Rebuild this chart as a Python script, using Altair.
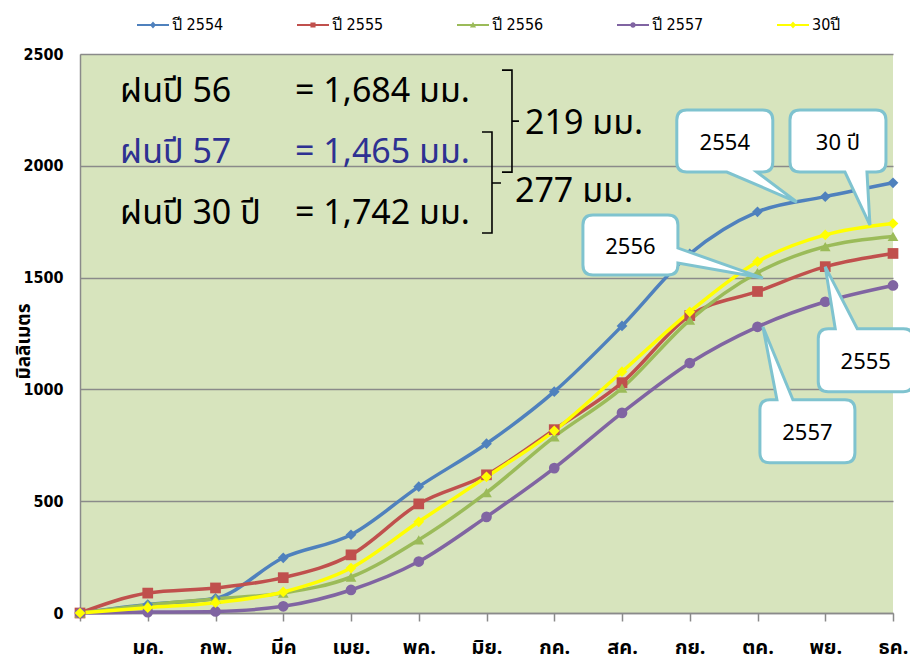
import altair as alt
import pandas as pd

# ---------------- data ----------------
months = ["", "มค.", "กพ.", "มีค", "เมย.", "พค.", "มิย.", "กค.", "สค.", "กย.", "ตค.", "พย.", "ธค."]
series_names = ["ปี 2554", "ปี 2555", "ปี 2556", "ปี 2557", "30ปี"]

rain_2554 = [0, 38, 66, 247, 350, 565, 757, 990, 1284, 1606, 1794, 1862, 1924]
rain_2555 = [0, 89, 112, 158, 260, 488, 618, 820, 1030, 1330, 1438, 1549, 1608]
rain_2556 = [0, 36, 63, 89, 161, 327, 538, 788, 1006, 1310, 1522, 1639, 1684]
rain_2557 = [0, 4, 7, 30, 103, 230, 430, 648, 895, 1118, 1280, 1392, 1465]
rain_30y = [0, 24, 46, 94, 201, 408, 609, 815, 1079, 1347, 1571, 1691, 1742]

series_values = [rain_2554, rain_2555, rain_2556, rain_2557, rain_30y]
colors = ["#4F81BD", "#C0504D", "#9BBB59", "#8064A2", "#FFFF00"]
marker_shapes = ["diamond", "square", "triangle-up", "circle", "diamond"]

# legend symbols: a line with the marker on it
bar = "M-1,-0.06L1,-0.06L1,0.06L-1,0.06Z"
legend_paths = [
    bar + "M0,-0.22L0.19,0L0,0.22L-0.19,0Z",
    bar + "M-0.16,-0.16L0.16,-0.16L0.16,0.16L-0.16,0.16Z",
    bar + "M0,-0.2L0.19,0.15L-0.19,0.15Z",
    bar + "M0.17,0A0.17,0.17 0 1,1 -0.17,0A0.17,0.17 0 1,1 0.17,0Z",
    bar + "M0,-0.22L0.19,0L0,0.22L-0.19,0Z",
]

rows = []
for name, vals, shp, col in zip(series_names, series_values, marker_shapes, colors):
    for i, v in enumerate(vals):
        rows.append({"idx": i, "value": v, "series": name, "shape": shp, "col": col})
df = pd.DataFrame(rows)

# annotation text block
note_left = ["ฝนปี 56", "ฝนปี 57", "ฝนปี 30 ปี"]
note_right = ["= 1,684 มม.", "= 1,465 มม.", "= 1,742 มม."]
note_colors = ["#000000", "#2E3192", "#000000"]
note_y = [2285, 2012, 1740]
note_left_x = 0.59
note_right_x = 5.756
diff_text = ["219 มม.", "277 มม."]
diff_x = [6.57, 6.42]
diff_y = [2142, 1838]

# callouts: tip (x index, value), box relative to tip (px), edge of tail, tail base
callout_labels = ["2554", "30 ปี", "2556", "2555", "2557"]
callout_tip_x = [10.58, 11.66, 10.08, 11.0, 10.08]
callout_tip_y = [1838, 1735, 1498, 1549, 1280]
callout_box = [(-120, -92, -24, -30), (-80, -115, 16, -53), (-180, -63, -85, -3),
               (-7, 62, 88, 125), (-3, 73, 92, 136)]
callout_edge = ["bottom", "bottom", "right", "top", "top"]
callout_base = [(-70, -40), (-25, -3), (-30, -15), (10, 32), (14, 30)]

FONT_THAI = "Tahoma, 'Noto Sans Thai', 'Noto Sans', sans-serif"
FONT_NARROW = "'Liberation Sans Narrow', 'Arial Narrow', 'DejaVu Sans Condensed', sans-serif"

X = alt.X("idx:Q", scale=alt.Scale(domain=[0, 12], nice=False, zero=False),
          axis=alt.Axis(values=list(range(13)),
                        labelExpr="[" + ",".join("'" + m + "'" for m in months) + "][datum.value]",
                        grid=False, title=None, tickColor="#8A8A8A", tickSize=8, tickWidth=1.5,
                        domainColor="#8A8A8A", domainWidth=1.5, labelFont=FONT_THAI,
                        labelFontSize=20, labelFontWeight="bold", labelColor="#000000",
                        labelPadding=16, labelOverlap=False, labelFlush=False))
Y = alt.Y("value:Q", scale=alt.Scale(domain=[0, 2500], nice=False),
          axis=alt.Axis(values=[0, 500, 1000, 1500, 2000, 2500], format="d", grid=True,
                        gridColor="#8A8A8A", gridWidth=1.5, ticks=False, domainColor="#8A8A8A",
                        domainWidth=1.5, labelFont=FONT_NARROW, labelFontSize=16,
                        labelFontWeight="bold", labelColor="#000000", labelPadding=17,
                        title="มิลลิเมตร", titleFont=FONT_THAI, titleFontSize=19,
                        titleFontWeight="bold", titleColor="#000000", titleAngle=270,
                        titleAlign="center", titleBaseline="middle", titleX=-57, titleY=287))

base = alt.Chart(df)
lines = base.mark_line(strokeWidth=3.5, interpolate="monotone").encode(
    x=X, y=Y, detail="series:N", color=alt.Color("col:N", scale=None))
points = base.mark_point(filled=True, size=115, opacity=1).encode(
    x="idx:Q", y="value:Q",
    color=alt.Color("col:N", scale=None),
    shape=alt.Shape("shape:N", scale=None))

legend_cfg = dict(orient="none", legendX=57, legendY=-45, direction="horizontal", title=None,
                  symbolSize=1024, symbolStrokeWidth=0, symbolOpacity=1, labelFont=FONT_NARROW,
                  labelFontSize=16, labelColor="#000000", labelOffset=3, columnPadding=73,
                  padding=0)
legend_layer = base.mark_point(filled=True, opacity=0).encode(
    x="idx:Q", y="value:Q",
    color=alt.Color("series:N", scale=alt.Scale(domain=series_names, range=colors),
                    legend=alt.Legend(**legend_cfg)),
    shape=alt.Shape("series:N", scale=alt.Scale(domain=series_names, range=legend_paths),
                    legend=alt.Legend(**legend_cfg)))

# text block
notes_df = pd.DataFrame({"lx": [note_left_x] * 3, "rx": [note_right_x] * 3, "y": note_y,
                         "lt": note_left, "rt": note_right, "c": note_colors})
notes_left = alt.Chart(notes_df).mark_text(align="left", baseline="alphabetic", fontSize=34,
                                           font=FONT_THAI).encode(
    x="lx:Q", y="y:Q", text="lt:N", color=alt.Color("c:N", scale=None))
notes_right = alt.Chart(notes_df).mark_text(align="right", baseline="alphabetic", fontSize=34,
                                            font=FONT_THAI).encode(
    x="rx:Q", y="y:Q", text="rt:N", color=alt.Color("c:N", scale=None))
diff_df = pd.DataFrame({"x": diff_x, "y": diff_y, "t": diff_text})
diffs = alt.Chart(diff_df).mark_text(align="left", baseline="alphabetic", fontSize=34,
                                     font=FONT_THAI, color="#000000").encode(
    x="x:Q", y="y:Q", text="t:N")

# brackets
bracket_df = pd.DataFrame({"x": [6.376, 6.081], "y": [2200, 1923],
                           "p": ["M-10,-51L0,-51L0,51L-10,51M0,0L7,0",
                                 "M-10,-51L0,-51L0,50L-10,50M0,0L9,0"]})
brackets = alt.Chart(bracket_df).mark_point(filled=False, size=4, stroke="#000000",
                                            strokeWidth=1.6, opacity=1).encode(
    x="x:Q", y="y:Q", shape=alt.Shape("p:N", scale=None))


def callout_path(box, edge, b, r=10):
    x0, y0, x1, y1 = box
    b0, b1 = b
    p = [f"M{x0 + r},{y0}"]
    if edge == "top":
        p += [f"L{b0},{y0}", "L0,0", f"L{b1},{y0}"]
    p += [f"L{x1 - r},{y0}", f"Q{x1},{y0} {x1},{y0 + r}"]
    if edge == "right":
        p += [f"L{x1},{b0}", "L0,0", f"L{x1},{b1}"]
    p += [f"L{x1},{y1 - r}", f"Q{x1},{y1} {x1 - r},{y1}"]
    if edge == "bottom":
        p += [f"L{b1},{y1}", "L0,0", f"L{b0},{y1}"]
    p += [f"L{x0 + r},{y1}", f"Q{x0},{y1} {x0},{y1 - r}", f"L{x0},{y0 + r}",
          f"Q{x0},{y0} {x0 + r},{y0}", "Z"]
    return "".join(p)


callout_df = pd.DataFrame({"x": callout_tip_x, "y": callout_tip_y,
                           "p": [callout_path(bx, e, b) for bx, e, b in
                                 zip(callout_box, callout_edge, callout_base)]})
callout_shapes = alt.Chart(callout_df).mark_point(filled=True, size=4, fill="#FFFFFF",
                                                  stroke="#7FC3CF", strokeWidth=3, opacity=1,
                                                  fillOpacity=1, strokeOpacity=1).encode(
    x="x:Q", y="y:Q", shape=alt.Shape("p:N", scale=None))

callout_texts = []
for lab, tx, ty, bx in zip(callout_labels, callout_tip_x, callout_tip_y, callout_box):
    cdf = pd.DataFrame({"x": [tx], "y": [ty], "t": [lab]})
    callout_texts.append(
        alt.Chart(cdf).mark_text(fontSize=22, font=FONT_THAI, color="#000000",
                                 baseline="middle", align="center",
                                 dx=(bx[0] + bx[2]) / 2, dy=(bx[1] + bx[3]) / 2 + 2).encode(
            x="x:Q", y="y:Q", text="t:N"))

chart = alt.layer(lines, points, legend_layer, notes_left, notes_right, diffs, brackets,
                  callout_shapes, *callout_texts).properties(
    width=813, height=559,
    autosize=alt.AutoSizeParams(type="none"),
    padding={"left": 72, "top": 46, "right": 17, "bottom": 52},
    background="#FFFFFF",
).configure_view(fill="#D7E4BD", stroke=None)

chart.save("out.html", embed_options={"renderer": "svg", "actions": False})
